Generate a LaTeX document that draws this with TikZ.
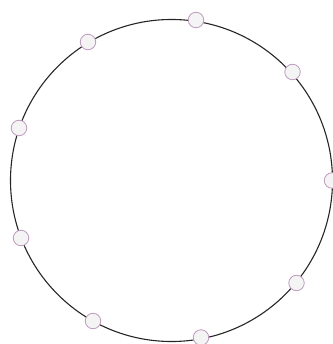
\documentclass[tikz,border=0pt]{standalone}
\begin{document}
\begin{tikzpicture}[x=1pt,y=-1pt,
  ring/.style={circle,draw=black!85,line width=1.1pt,inner sep=0pt,minimum size=322pt},
  dot/.style={circle,draw={rgb,255:red,190;green,155;blue,190},fill={rgb,255:red,244;green,244;blue,244},line width=0.8pt,inner sep=0pt,minimum size=15.5pt}]
\useasboundingbox (0,0) rectangle (332,344);
\node[ring] (ring) at (171.5,180.5) {};
\node[dot] (n1) at (196,20) {};
\node[dot] (n2) at (88,42) {};
\node[dot] (n3) at (292.5,72) {};
\node[dot] (n4) at (19,128) {};
\node[dot] (n5) at (332,180.5) {};
\node[dot] (n6) at (21,238) {};
\node[dot] (n7) at (296.5,283) {};
\node[dot] (n8) at (93,321) {};
\node[dot] (n9) at (201,337.5) {};
\end{tikzpicture}
\end{document}
